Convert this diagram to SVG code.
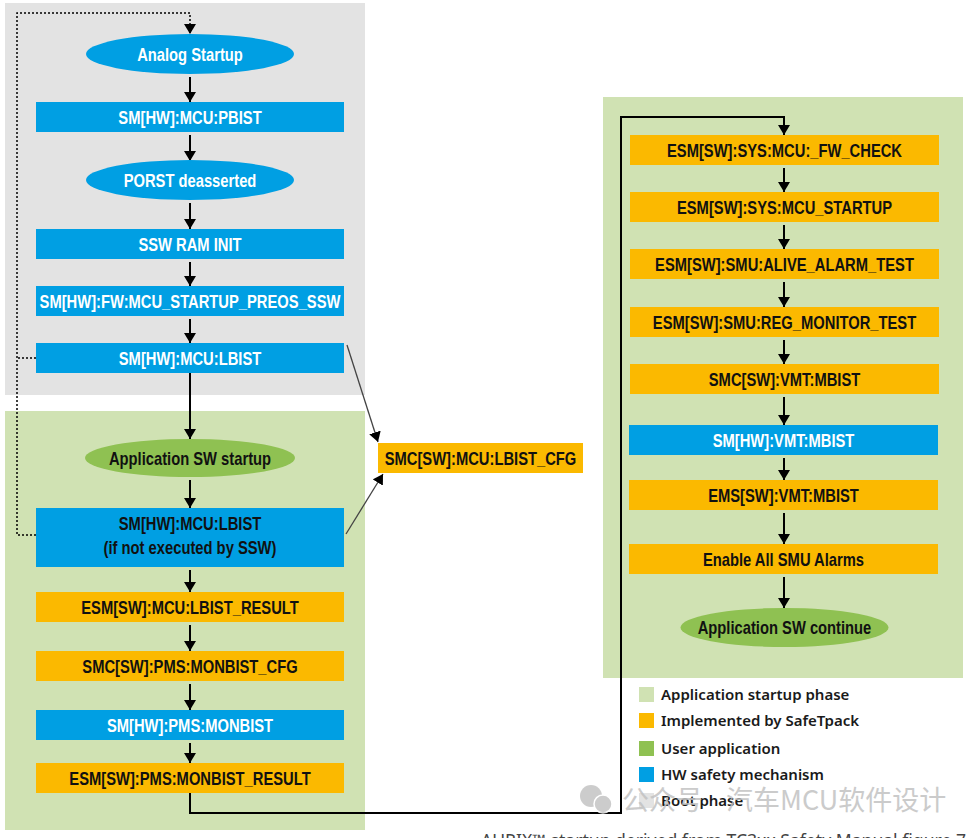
<svg xmlns="http://www.w3.org/2000/svg" width="977" height="838" viewBox="0 0 977 838">
<defs>
<marker id="arr" markerUnits="userSpaceOnUse" viewBox="0 0 10 12" markerWidth="10" markerHeight="12" refX="10" refY="6" orient="auto">
<path d="M0,0 L10,6 L0,12 z" fill="#000"/>
</marker>
<style>
.bg-gray{fill:#e3e3e3}
.bg-green{fill:#d0e2b3}
.blue{fill:#009fe3}
.orange{fill:#fbb900}
.green{fill:#8fc152}
.t{font-family:"Liberation Sans",Arial,sans-serif;font-weight:bold;font-size:18px;text-anchor:middle}
.w{fill:#ffffff}
.k{fill:#111111}
.edge{stroke:#000;stroke-width:2;fill:none;marker-end:url(#arr)}
.dot{stroke:#000;stroke-width:1.5;fill:none;stroke-dasharray:2,2}
.thin{stroke:#444;stroke-width:1.3;fill:none;marker-end:url(#arr)}
.lg{font-family:"Noto Sans","Open Sans",sans-serif;font-weight:600;font-size:15px;fill:#1a1a1a}
.wm{font-family:"Noto Sans CJK SC","Noto Sans",sans-serif;font-size:27px;fill:#c2c2c2}
.cap{font-family:"Noto Sans",sans-serif;font-size:17.6px;fill:#444}
</style>
</defs>

<g id="backgrounds">
<rect class="bg-gray" x="5" y="3" width="360" height="392"/>
<rect class="bg-green" x="5" y="411" width="360" height="419"/>
<rect class="bg-green" x="603" y="97" width="360" height="581"/>
</g>

<g id="connectors">
<path class="dot" d="M36,358 H17"/>
<path class="dot" d="M36,535 H17 V13 H190 V34" marker-end="url(#arr)"/>
<line class="edge" x1="190" y1="77" x2="190" y2="102"/>
<line class="edge" x1="190" y1="135" x2="190" y2="161"/>
<line class="edge" x1="190" y1="203" x2="190" y2="229"/>
<line class="edge" x1="190" y1="262" x2="190" y2="286"/>
<line class="edge" x1="190" y1="319" x2="190" y2="343"/>
<line class="edge" x1="190" y1="373" x2="190" y2="439"/>
<line class="edge" x1="190" y1="480" x2="190" y2="508"/>
<line class="edge" x1="190" y1="570" x2="190" y2="592"/>
<line class="edge" x1="190" y1="625" x2="190" y2="651"/>
<line class="edge" x1="190" y1="684" x2="190" y2="710"/>
<line class="edge" x1="190" y1="743" x2="190" y2="763"/>
<path class="edge" d="M190,793 V813 H621 V117 H784 V135"/>
<line class="edge" x1="784" y1="168" x2="784" y2="192"/>
<line class="edge" x1="784" y1="225" x2="784" y2="249"/>
<line class="edge" x1="784" y1="282" x2="784" y2="307"/>
<line class="edge" x1="784" y1="340" x2="784" y2="364"/>
<line class="edge" x1="784" y1="397" x2="784" y2="425"/>
<line class="edge" x1="784" y1="458" x2="784" y2="480"/>
<line class="edge" x1="784" y1="513" x2="784" y2="544"/>
<line class="edge" x1="784" y1="577" x2="784" y2="608"/>
<line class="thin" x1="347" y1="345" x2="378" y2="442"/>
<line class="thin" x1="346" y1="534" x2="383" y2="474"/>
</g>

<g id="n-analog"><ellipse class="blue" cx="190" cy="54" rx="104" ry="20"/><text class="t w" transform="translate(190,60.5) scale(0.82,1)">Analog Startup</text></g>
<g id="n-pbist"><rect class="blue" x="36" y="102" width="308" height="30"/><text class="t w" transform="translate(190,123.5) scale(0.82,1)">SM[HW]:MCU:PBIST</text></g>
<g id="n-porst"><ellipse class="blue" cx="190" cy="180" rx="104" ry="20"/><text class="t w" transform="translate(190,186.5) scale(0.82,1)">PORST deasserted</text></g>
<g id="n-sswram"><rect class="blue" x="36" y="229" width="308" height="30"/><text class="t w" transform="translate(190,250.5) scale(0.82,1)">SSW RAM INIT</text></g>
<g id="n-preos"><rect class="blue" x="36" y="286" width="308" height="30"/><text class="t w" transform="translate(190,307.5) scale(0.82,1)">SM[HW]:FW:MCU_STARTUP_PREOS_SSW</text></g>
<g id="n-lbist1"><rect class="blue" x="36" y="343" width="308" height="30"/><text class="t w" transform="translate(190,364.5) scale(0.82,1)">SM[HW]:MCU:LBIST</text></g>
<g id="n-appstart"><ellipse class="green" cx="190" cy="458" rx="105" ry="19"/><text class="t k" transform="translate(190,464.5) scale(0.82,1)">Application SW startup</text></g>
<g id="n-lbist2"><rect class="blue" x="36" y="508" width="308" height="59"/><text class="t k" transform="translate(190,529.5) scale(0.82,1)">SM[HW]:MCU:LBIST</text><text class="t k" transform="translate(190,553.5) scale(0.82,1)">(if not executed by SSW)</text></g>
<g id="n-lbistres"><rect class="orange" x="36" y="592" width="308" height="30"/><text class="t k" transform="translate(190,613.5) scale(0.82,1)">ESM[SW]:MCU:LBIST_RESULT</text></g>
<g id="n-monbistcfg"><rect class="orange" x="36" y="651" width="308" height="30"/><text class="t k" transform="translate(190,672.5) scale(0.82,1)">SMC[SW]:PMS:MONBIST_CFG</text></g>
<g id="n-monbist"><rect class="blue" x="36" y="710" width="308" height="30"/><text class="t w" transform="translate(190,731.5) scale(0.82,1)">SM[HW]:PMS:MONBIST</text></g>
<g id="n-monbistres"><rect class="orange" x="36" y="763" width="308" height="30"/><text class="t k" transform="translate(190,784.5) scale(0.82,1)">ESM[SW]:PMS:MONBIST_RESULT</text></g>
<g id="n-lbistcfg"><rect class="orange" x="378" y="443" width="205" height="30"/><text class="t k" transform="translate(480.5,464.5) scale(0.82,1)">SMC[SW]:MCU:LBIST_CFG</text></g>

<g id="n-fwcheck"><rect class="orange" x="630" y="135" width="309" height="30"/><text class="t k" transform="translate(784.5,156.5) scale(0.82,1)">ESM[SW]:SYS:MCU:_FW_CHECK</text></g>
<g id="n-sysstartup"><rect class="orange" x="630" y="192" width="309" height="30"/><text class="t k" transform="translate(784.5,213.5) scale(0.82,1)">ESM[SW]:SYS:MCU_STARTUP</text></g>
<g id="n-alive"><rect class="orange" x="630" y="249" width="309" height="30"/><text class="t k" transform="translate(784.5,270.5) scale(0.82,1)">ESM[SW]:SMU:ALIVE_ALARM_TEST</text></g>
<g id="n-regmon"><rect class="orange" x="630" y="307" width="309" height="30"/><text class="t k" transform="translate(784.5,328.5) scale(0.82,1)">ESM[SW]:SMU:REG_MONITOR_TEST</text></g>
<g id="n-smcvmt"><rect class="orange" x="630" y="364" width="309" height="30"/><text class="t k" transform="translate(784.5,385.5) scale(0.82,1)">SMC[SW]:VMT:MBIST</text></g>
<g id="n-smhwvmt"><rect class="blue" x="629" y="425" width="309" height="30"/><text class="t w" transform="translate(783.5,446.5) scale(0.82,1)">SM[HW]:VMT:MBIST</text></g>
<g id="n-emsvmt"><rect class="orange" x="629" y="480" width="309" height="30"/><text class="t k" transform="translate(783.5,501.5) scale(0.82,1)">EMS[SW]:VMT:MBIST</text></g>
<g id="n-enable"><rect class="orange" x="629" y="544" width="309" height="30"/><text class="t k" transform="translate(783.5,565.5) scale(0.82,1)">Enable All SMU Alarms</text></g>
<g id="n-continue"><ellipse class="green" cx="784.5" cy="627.5" rx="104" ry="19.5"/><text class="t k" transform="translate(784.5,634) scale(0.82,1)">Application SW continue</text></g>

<g id="legend">
<rect x="639" y="687" width="15" height="15" fill="#d0e2b3"/><text class="lg" x="661" y="700">Application startup phase</text>
<rect x="639" y="713" width="15" height="15" fill="#fbb900"/><text class="lg" x="661" y="726">Implemented by SafeTpack</text>
<rect x="639" y="741" width="15" height="15" fill="#8fc152"/><text class="lg" x="661" y="754">User application</text>
<rect x="639" y="767" width="15" height="15" fill="#009fe3"/><text class="lg" x="661" y="780">HW safety mechanism</text>
<rect x="639" y="793" width="15" height="15" fill="#e3e3e3"/><text class="lg" x="661" y="806">Boot phase</text>
</g>

<g id="watermark" opacity="0.85">
<circle cx="591" cy="796" r="11" fill="#c4c4c4"/>
<circle cx="603" cy="804" r="9" fill="#c4c4c4" stroke="#fff" stroke-width="1.5"/>
<text class="wm" x="622" y="810">公众号</text>
<text class="wm" x="726" y="810">汽车MCU软件设计</text>
</g>

<text class="cap" x="481" y="847">AURIX™ startup derived from TC3xx Safety Manual figure 7</text>
</svg>
